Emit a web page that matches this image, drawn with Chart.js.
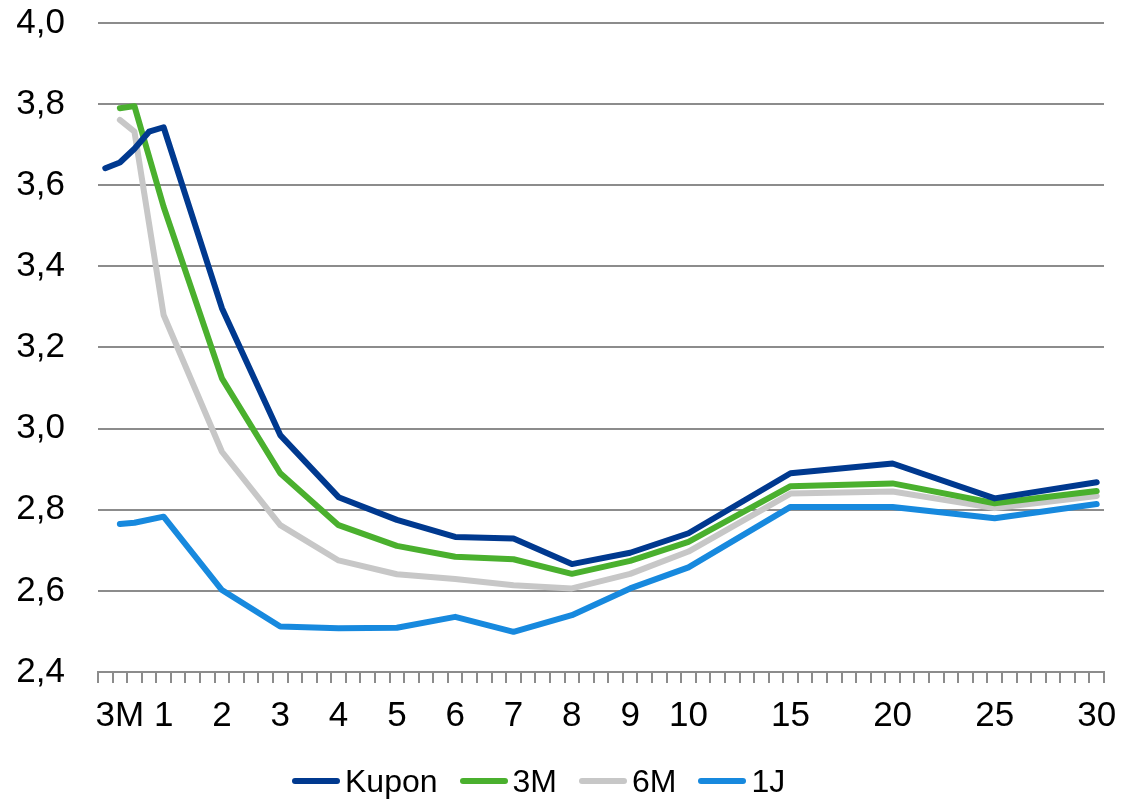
<!DOCTYPE html>
<html lang="de">
<head>
<meta charset="utf-8">
<title>Zinskurven</title>
<script src="https://cdn.jsdelivr.net/npm/chart.js@4/dist/chart.umd.min.js"></script>
<style>
  html, body { margin: 0; padding: 0; background: #ffffff; }
  #wrap { position: relative; width: 1123px; height: 803px; font-family: "Liberation Sans", Arial, sans-serif; }
  #chart { position: absolute; left: 0; top: 0; }
  #legend { position: absolute; left: 292px; top: 761px; display: flex; align-items: center; height: 40px; font-size: 32px; color: #000; }
  #legend .item { display: flex; align-items: center; margin-right: 22px; }
  #legend .swatch { width: 48px; height: 6px; border-radius: 3px; margin-right: 5px; }
</style>
</head>
<body>
<div id="wrap">
  <canvas id="chart" width="1123" height="803"></canvas>
  <div id="legend"></div>
</div>
<script>
// Number of category slots on the maturity axis
const slotCount = 69;

// Axis labels and the slot each one sits in
const tickLabels = ['3M', '1', '2', '3', '4', '5', '6', '7', '8', '9', '10', '15', '20', '25', '30'];
const tickSlots  = [1, 4, 8, 12, 16, 20, 24, 28, 32, 36, 40, 47, 54, 61, 68];

// Slots that carry a quoted point
const pointSlots = [0, 1, 2, 3, 4, 8, 12, 16, 20, 24, 28, 32, 36, 40, 47, 54, 61, 68];

// Yields (%) per curve, aligned with pointSlots
const kupon = [3.642, 3.656, 3.69, 3.732, 3.743, 3.297, 2.984, 2.831, 2.775, 2.733, 2.729, 2.666, 2.694, 2.742, 2.890, 2.914, 2.828, 2.868];
const m3    = [null, 3.790, 3.795, null, 3.547, 3.124, 2.890, 2.762, 2.711, 2.684, 2.678, 2.642, 2.674, 2.721, 2.858, 2.865, 2.816, 2.846];
const m6    = [null, 3.761, 3.732, null, 3.280, 2.943, 2.762, 2.675, 2.641, 2.629, 2.614, 2.606, 2.642, 2.697, 2.840, 2.845, 2.804, 2.834];
const j1    = [null, 2.765, 2.768, null, 2.783, 2.602, 2.512, 2.508, 2.509, 2.536, 2.499, 2.540, 2.606, 2.658, 2.807, 2.807, 2.779, 2.814];

const seriesNames = ['Kupon', '3M', '6M', '1J'];
const seriesColors = ['#00398F', '#4AB02E', '#C7C7C7', '#1789DE'];

// Spread the quoted points over the full slot list
function toSlots(values) {
  const out = new Array(slotCount).fill(null);
  pointSlots.forEach((s, i) => { out[s] = values[i]; });
  return out;
}
const categoryLabels = new Array(slotCount).fill('');
tickSlots.forEach((s, i) => { categoryLabels[s] = tickLabels[i]; });

const FONT = "'Liberation Sans', Arial, sans-serif";
const GRID = '#8C8C8C';

const datasets = [kupon, m3, m6, j1].map((vals, i) => ({
  label: seriesNames[i],
  data: toSlots(vals),
  borderColor: seriesColors[i],
  backgroundColor: seriesColors[i],
  borderWidth: 6,
  borderCapStyle: 'round',
  borderJoinStyle: 'round',
  pointRadius: 0,
  pointHoverRadius: 0,
  tension: 0,
  spanGaps: true,
  order: i
}));

new Chart(document.getElementById('chart'), {
  type: 'line',
  data: { labels: categoryLabels, datasets: datasets },
  options: {
    responsive: false,
    animation: false,
    events: [],
    layout: { padding: { top: 23, right: 19, bottom: 0, left: 0 } },
    plugins: { legend: { display: false }, tooltip: { enabled: false } },
    scales: {
      x: {
        type: 'category',
        offset: true,
        grid: { offset: true, drawOnChartArea: false, drawTicks: true, tickLength: 11, color: GRID, lineWidth: 2 },
        border: { display: true, color: GRID, width: 2 },
        ticks: {
          autoSkip: false, maxRotation: 0, minRotation: 0, padding: 12,
          color: '#000', font: { family: FONT, size: 35 }
        },
        afterFit: (scale) => { scale.height = 131; scale.paddingLeft = 0; scale.paddingRight = 0; }
      },
      y: {
        min: 2.4, max: 4.0,
        grid: { color: GRID, lineWidth: 2, drawTicks: false },
        border: { display: false },
        ticks: {
          stepSize: 0.2, padding: 33, color: '#000',
          font: { family: FONT, size: 35 },
          callback: (v) => v.toFixed(1).replace('.', ',')
        },
        afterFit: (scale) => { scale.width = 98; scale.paddingTop = 0; scale.paddingBottom = 0; }
      }
    }
  }
});

// Legend row under the chart
const legend = document.getElementById('legend');
seriesNames.forEach((name, i) => {
  const item = document.createElement('div');
  item.className = 'item';
  const sw = document.createElement('span');
  sw.className = 'swatch';
  sw.style.background = seriesColors[i];
  const tx = document.createElement('span');
  tx.textContent = name;
  item.appendChild(sw);
  item.appendChild(tx);
  legend.appendChild(item);
});
</script>
</body>
</html>
